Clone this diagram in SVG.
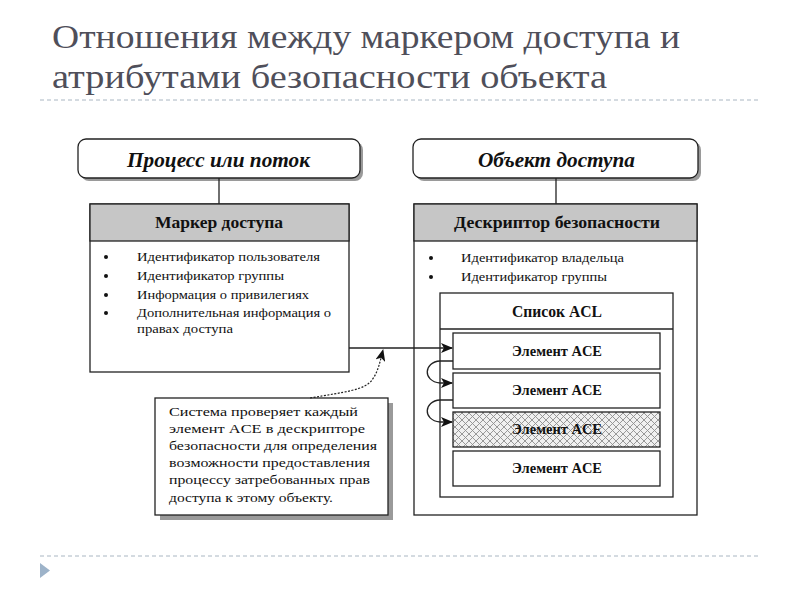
<svg xmlns="http://www.w3.org/2000/svg" width="800" height="600" viewBox="0 0 800 600">
<style>
.title{font-family:"Liberation Serif","DejaVu Serif",serif;font-size:33px;fill:#4f4f5a}
.sep{stroke:#a9b6c2;stroke-width:1;stroke-dasharray:4,3;fill:none}
.box{fill:#fff;stroke:#222;stroke-width:1.3}
.shadow{fill:#9a9a9a}
.hdr{fill:#c6c6c6;stroke:#222;stroke-width:1.3}
.ital{font-family:"Liberation Serif",serif;font-size:20px;font-style:italic;font-weight:bold;fill:#111}
.bold{font-family:"Liberation Serif",serif;font-size:16px;font-weight:bold;fill:#111}
.ace{font-family:"Liberation Serif",serif;font-size:14px;font-weight:bold;fill:#111}
.txt{font-family:"Liberation Serif",serif;font-size:13.5px;fill:#111}
.ln{stroke:#222;stroke-width:1.3;fill:none}
.dash{stroke:#222;stroke-width:1.2;fill:none;stroke-dasharray:2,1.5}
</style>
<defs>
<marker id="arr" viewBox="0 0 12 10" refX="11" refY="5" markerWidth="12" markerHeight="10" markerUnits="userSpaceOnUse" orient="auto">
<path d="M0,0 L12,5 L0,10 L3,5 z" fill="#111"/>
</marker>
<pattern id="hatch" width="7" height="7" patternUnits="userSpaceOnUse">
<rect width="7" height="7" fill="#f0f0f0"/>
<path d="M0,0 L7,7 M7,0 L0,7" stroke="#8e8e8e" stroke-width="0.9"/>
</pattern>
</defs>

<g id="title">
<text class="title" x="52" y="48" textLength="628" lengthAdjust="spacingAndGlyphs">Отношения между маркером доступа и</text>
<text class="title" x="52" y="88" textLength="555" lengthAdjust="spacingAndGlyphs">атрибутами безопасности объекта</text>
<line class="sep" x1="40" y1="100" x2="760" y2="100"/>
<line class="sep" x1="40" y1="556" x2="760" y2="556"/>
<polygon points="40,563 50,570.5 40,578" fill="#9db3c9"/>
</g>

<g id="process">
<rect class="shadow" x="81" y="142" width="282" height="39" rx="8"/>
<rect class="box" x="78" y="139" width="282" height="39" rx="8"/>
<text class="ital" x="127" y="167" textLength="183" lengthAdjust="spacingAndGlyphs">Процесс или поток</text>
</g>

<g id="token">
<rect class="box" x="90" y="204" width="259" height="168"/>
<rect class="hdr" x="90" y="204" width="259" height="37"/>
<text class="bold" x="155" y="228" textLength="128" lengthAdjust="spacingAndGlyphs">Маркер доступа</text>
<g class="txt">
<circle cx="106" cy="257" r="2" fill="#111"/>
<circle cx="106" cy="276" r="2" fill="#111"/>
<circle cx="106" cy="295" r="2" fill="#111"/>
<circle cx="106" cy="313" r="2" fill="#111"/>
<text x="137" y="261" textLength="183" lengthAdjust="spacingAndGlyphs">Идентификатор пользователя</text>
<text x="137" y="280" textLength="147" lengthAdjust="spacingAndGlyphs">Идентификатор группы</text>
<text x="137" y="299" textLength="172" lengthAdjust="spacingAndGlyphs">Информация о привилегиях</text>
<text x="137" y="317" textLength="194" lengthAdjust="spacingAndGlyphs">Дополнительная информация о</text>
<text x="137" y="333" textLength="96" lengthAdjust="spacingAndGlyphs">правах доступа</text>
</g>
</g>

<g id="object">
<rect class="shadow" x="416" y="142" width="285" height="39" rx="8"/>
<rect class="box" x="413" y="139" width="285" height="39" rx="8"/>
<text class="ital" x="478" y="167" textLength="157" lengthAdjust="spacingAndGlyphs">Объект доступа</text>
</g>

<g id="descriptor">
<rect class="box" x="414" y="204" width="283" height="311"/>
<rect class="hdr" x="414" y="204" width="283" height="37"/>
<text class="bold" x="454" y="228" textLength="206" lengthAdjust="spacingAndGlyphs">Дескриптор безопасности</text>
<circle cx="431" cy="258" r="2" fill="#111"/>
<circle cx="431" cy="277" r="2" fill="#111"/>
<text class="txt" x="461" y="262" textLength="163" lengthAdjust="spacingAndGlyphs">Идентификатор владельца</text>
<text class="txt" x="461" y="281" textLength="146" lengthAdjust="spacingAndGlyphs">Идентификатор группы</text>
</g>

<g id="acl">
<rect class="box" x="440" y="293" width="233" height="204"/>
<line class="ln" x1="440" y1="329" x2="673" y2="329"/>
<text class="bold" x="512" y="317" textLength="90" lengthAdjust="spacingAndGlyphs">Список ACL</text>
</g>

<g id="ace1">
<rect class="box" x="453" y="333" width="207" height="36"/>
<text class="ace" x="512" y="356" textLength="90" lengthAdjust="spacingAndGlyphs">Элемент ACE</text>
</g>
<g id="ace2">
<rect class="box" x="453" y="373" width="207" height="35"/>
<text class="ace" x="512" y="395" textLength="90" lengthAdjust="spacingAndGlyphs">Элемент ACE</text>
</g>
<g id="ace3">
<rect x="453" y="412" width="207" height="35" fill="url(#hatch)" stroke="#222" stroke-width="1.3"/>
<text class="ace" x="512" y="434" textLength="90" lengthAdjust="spacingAndGlyphs">Элемент ACE</text>
</g>
<g id="ace4">
<rect class="box" x="453" y="451" width="207" height="35"/>
<text class="ace" x="512" y="473" textLength="90" lengthAdjust="spacingAndGlyphs">Элемент ACE</text>
</g>

<g id="note">
<rect class="shadow" x="160" y="403" width="233" height="117"/>
<rect class="box" x="155" y="398" width="233" height="117"/>
<g class="txt">
<text x="169" y="416" textLength="189" lengthAdjust="spacingAndGlyphs">Система проверяет каждый</text>
<text x="169" y="433" textLength="196" lengthAdjust="spacingAndGlyphs">элемент ACE в дескрипторе</text>
<text x="169" y="450" textLength="208" lengthAdjust="spacingAndGlyphs">безопасности для определения</text>
<text x="169" y="467" textLength="201" lengthAdjust="spacingAndGlyphs">возможности предоставления</text>
<text x="169" y="484" textLength="201" lengthAdjust="spacingAndGlyphs">процессу затребованных прав</text>
<text x="169" y="502" textLength="164" lengthAdjust="spacingAndGlyphs">доступа к этому объекту.</text>
</g>
</g>

<g id="connectors">
<line class="ln" x1="219" y1="178" x2="219" y2="204"/>
<line class="ln" x1="556" y1="178" x2="556" y2="204"/>
<line class="ln" x1="349" y1="348" x2="452" y2="348" marker-end="url(#arr)"/>
<path class="dash" d="M310,398 C345,392 365,390 372,380 C378,372 380,362 383,350" marker-end="url(#arr)"/>
<path class="ln" d="M453,361 L440,361 C424,362 422,381 440,383 L452,383" marker-end="url(#arr)"/>
<path class="ln" d="M453,400 L440,400 C424,401 422,420 440,422 L452,422" marker-end="url(#arr)"/>
</g>
</svg>
